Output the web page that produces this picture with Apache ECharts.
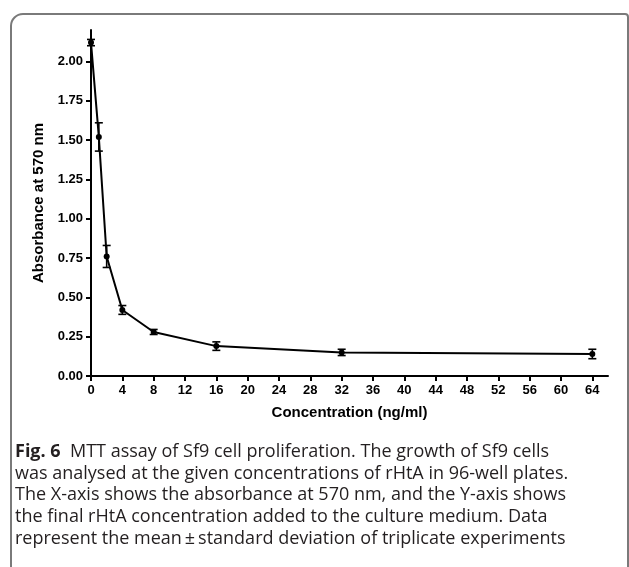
<!DOCTYPE html>
<html>
<head>
<meta charset="utf-8">
<script src="https://cdn.jsdelivr.net/npm/echarts@6/dist/echarts.min.js"></script>
<style>
  html, body { margin: 0; padding: 0; background: #fff; }
  #chart { width: 629px; height: 567px; }
</style>
</head>
<body>
<div id="chart"></div>
<script>
// concentration of rHtA (ng/ml) and absorbance at 570 nm
var concentrations = [0, 1, 2, 4, 8, 16, 32, 64]
var absorbance = [2.12, 1.52, 0.76, 0.42, 0.28, 0.19, 0.15, 0.14]
var stdDev = [0.02, 0.09, 0.07, 0.028, 0.016, 0.027, 0.02, 0.03]

var xTicks = [0, 4, 8, 12, 16, 20, 24, 28, 32, 36, 40, 44, 48, 52, 56, 60, 64]
var yTicks = [0, 0.25, 0.5, 0.75, 1, 1.25, 1.5, 1.75, 2]

var captionLines = [
  'was analysed at the given concentrations of rHtA in 96-well plates.',
  'The X-axis shows the absorbance at 570 nm, and the Y-axis shows',
  'the final rHtA concentration added to the culture medium. Data',
  'represent the mean\u2009\u00b1\u2009standard deviation of triplicate experiments'
]

var lineData = concentrations.map(function (c, i) { return [c, absorbance[i]] })
var errData = concentrations.map(function (c, i) {
  return [c, absorbance[i] - stdDev[i], absorbance[i] + stdDev[i]]
})

var chart = echarts.init(document.getElementById('chart'))

var axisFont = {
  fontFamily: 'Liberation Sans',
  fontWeight: 'bold',
  color: '#000'
}

chart.setOption({
  animation: false,
  grid: {
    left: 91,
    right: 21,
    top: 30,
    bottom: 191
  },
  xAxis: {
    type: 'value',
    min: 0,
    max: 66,
    name: 'Concentration (ng/ml)',
    nameLocation: 'middle',
    nameGap: 29,
    nameTextStyle: Object.assign({ fontSize: 15 }, axisFont),
    splitLine: { show: false },
    axisLine: { lineStyle: { color: '#000', width: 2 } },
    axisTick: {
      customValues: xTicks,
      length: 5,
      lineStyle: { color: '#000', width: 2 }
    },
    axisLabel: Object.assign({
      customValues: xTicks,
      fontSize: 13,
      margin: 8
    }, axisFont)
  },
  yAxis: {
    type: 'value',
    min: 0,
    max: 2.2,
    name: 'Absorbance at 570 nm',
    nameLocation: 'middle',
    nameGap: 38,
    nameTextStyle: Object.assign({ fontSize: 15 }, axisFont),
    splitLine: { show: false },
    axisLine: { show: true, lineStyle: { color: '#000', width: 2 } },
    axisTick: {
      show: true,
      customValues: yTicks,
      length: 5,
      lineStyle: { color: '#000', width: 2 }
    },
    axisLabel: Object.assign({
      customValues: yTicks,
      fontSize: 13,
      margin: 8,
      formatter: function (v) { return v.toFixed(2) }
    }, axisFont)
  },
  series: [
    {
      type: 'line',
      data: lineData,
      symbol: 'circle',
      symbolSize: 6,
      itemStyle: { color: '#000' },
      lineStyle: { color: '#000', width: 2 },
      z: 3
    },
    {
      type: 'custom',
      data: errData,
      z: 4,
      renderItem: function (params, api) {
        var x = api.value(0)
        var lo = api.coord([x, api.value(1)])
        var hi = api.coord([x, api.value(2)])
        var half = 4
        var style = { stroke: '#000', lineWidth: 1.6 }
        return {
          type: 'group',
          children: [
            { type: 'line', shape: { x1: lo[0], y1: lo[1], x2: hi[0], y2: hi[1] }, style: style },
            { type: 'line', shape: { x1: lo[0] - half, y1: lo[1], x2: lo[0] + half, y2: lo[1] }, style: style },
            { type: 'line', shape: { x1: hi[0] - half, y1: hi[1], x2: hi[0] + half, y2: hi[1] }, style: style }
          ]
        }
      }
    }
  ],
  graphic: [
    {
      type: 'rect',
      shape: { x: 11, y: 14, width: 617, height: 700, r: [12, 3, 0, 12] },
      style: { fill: null, stroke: '#7a7a7a', lineWidth: 2 },
      silent: true
    },
    {
      type: 'text',
      left: 15,
      top: 441,
      style: {
        text: '{b|Fig. 6}  {n|MTT assay of Sf9 cell proliferation. The growth of Sf9 cells}\n' +
          captionLines.map(function (l) { return '{n|' + l + '}' }).join('\n'),
        rich: {
          b: { fontFamily: 'Open Sans', fontWeight: 'bold', fontSize: 18, lineHeight: 21.7, fill: '#231f20' },
          n: { fontFamily: 'Open Sans', fontSize: 18, lineHeight: 21.7, fill: '#231f20' }
        },
        fontFamily: 'Open Sans',
        fontSize: 18,
        lineHeight: 21.7,
        fill: '#231f20'
      }
    }
  ]
})
</script>
</body>
</html>
